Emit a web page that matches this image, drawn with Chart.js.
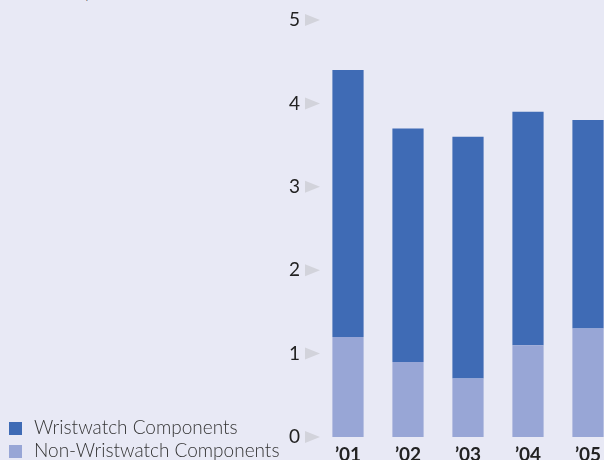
<!DOCTYPE html>
<html>
<head>
<meta charset="utf-8">
<script src="https://cdn.jsdelivr.net/npm/chart.js@4"></script>
<style>
  html, body { margin: 0; padding: 0; background: #e8e9f5; overflow: hidden; width: 604px; height: 460px; }
  #wrap { position: absolute; left: 0; top: 0; width: 640px; height: 480px; }
  #unit { position: absolute; left: 9px; top: -18px; font: 300 16px Lato, sans-serif; color: #555; }
  #legend { position: absolute; left: 9px; top: 418px; font: 300 19px Lato, sans-serif; color: #333; }
  #legend div { height: 23px; line-height: 18px; white-space: nowrap; }
  #legend span { display: inline-block; width: 13px; height: 13px; margin-right: 12px; vertical-align: -1px; }
</style>
</head>
<body>
<div id="unit">(Billions of yen)</div>
<div id="wrap"><canvas id="chart" width="640" height="480"></canvas></div>
<div id="legend"></div>
<script>
// values
const years = ["\u201901", "\u201902", "\u201903", "\u201904", "\u201905"];
const wristwatch = [3.2, 2.8, 2.9, 2.8, 2.5];
const nonWristwatch = [1.2, 0.9, 0.7, 1.1, 1.3];
const yTicks = [0, 1, 2, 3, 4, 5];

const darkBlue = "#3f6bb5";
const lightBlue = "#98a6d6";

// grey triangles next to the y tick labels
const tickArrows = {
  id: "tickArrows",
  afterDraw(chart) {
    const c = chart.ctx;
    const y = chart.scales.y;
    c.save();
    c.fillStyle = "#d2d3db";
    yTicks.forEach((v) => {
      const py = y.getPixelForValue(v);
      c.beginPath();
      c.moveTo(305, py - 6);
      c.lineTo(320, py);
      c.lineTo(305, py + 6);
      c.closePath();
      c.fill();
    });
    c.restore();
  },
};

const chart = new Chart(document.getElementById("chart"), {
  type: "bar",
  data: {
    labels: years,
    datasets: [
      {
        label: "Non-Wristwatch Components",
        data: nonWristwatch,
        backgroundColor: lightBlue,
      },
      {
        label: "Wristwatch Components",
        data: wristwatch,
        backgroundColor: darkBlue,
      },
    ],
  },
  options: {
    responsive: false,
    animation: false,
    layout: { padding: { top: 20, right: 22, left: 0, bottom: 0 } },
    plugins: { legend: { display: false }, tooltip: { enabled: false } },
    datasets: { bar: { categoryPercentage: 1, barPercentage: 0.52 } },
    scales: {
      x: {
        stacked: true,
        grid: { display: false },
        border: { display: false },
        ticks: {
          color: "#222",
          padding: -2,
          font: { family: "Lato", size: 19, weight: "bold" },
        },
        afterFit: (s) => { s.height = 43; },
      },
      y: {
        stacked: true,
        min: 0,
        max: 5,
        grid: { display: false, drawTicks: false },
        border: { display: false },
        afterBuildTicks: (s) => { s.ticks = yTicks.map((v) => ({ value: v })); },
        ticks: {
          color: "#222",
          padding: 18,
          font: { family: "Lato", size: 19 },
        },
        afterFit: (s) => {
          s.width = 318;
          s.paddingTop = 0;
          s.paddingBottom = 0;
        },
      },
    },
  },
  plugins: [tickArrows],
});

// legend, wristwatch first
const legend = document.getElementById("legend");
[chart.data.datasets[1], chart.data.datasets[0]].forEach((ds) => {
  const row = document.createElement("div");
  row.innerHTML = `<span style="background:${ds.backgroundColor}"></span>${ds.label}`;
  legend.appendChild(row);
});
</script>
</body>
</html>
